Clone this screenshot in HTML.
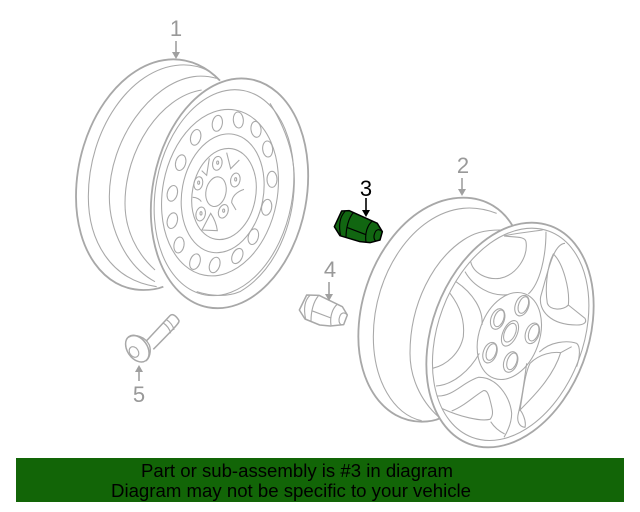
<!DOCTYPE html>
<html>
<head>
<meta charset="utf-8">
<style>
html,body{margin:0;padding:0;background:#fff;width:640px;height:512px;overflow:hidden}
svg{display:block}
text{font-family:"Liberation Sans",sans-serif}
</style>
</head>
<body>
<svg width="640" height="512" viewBox="0 0 640 512" xmlns="http://www.w3.org/2000/svg">
<rect width="640" height="512" fill="#fff"/>

<!-- Wheel 1 -->
<g transform="translate(60,10) scale(0.33333)" fill="none" stroke="#a8a8a8" stroke-width="3.2">
  <path stroke-width="5.5" d="M480,212 C440,170 390,148 340,148 C180,150 48,350 48,560 C48,720 130,840 250,840 C275,840 295,836 310,830"/>
  <path d="M445,182 C420,170 390,163 360,165 C210,175 85,360 85,560 C85,690 150,810 290,830"/>
  <path d="M470,205 C440,197 420,197 400,200 C270,220 148,390 148,560 C148,660 200,770 285,815"/>
  <path d="M425,240 C300,260 195,420 195,580 C195,660 230,730 285,780"/>
  <ellipse stroke-width="5.5" cx="508.500" cy="550" rx="231" ry="348" transform="rotate(10.7 508.5 550)"/>
  <ellipse cx="492" cy="548" rx="205" ry="312" transform="rotate(10.7 492 548)"/>
  <path d="M630,280 C680,360 705,440 703,520 C700,640 650,780 540,845 C500,862 450,858 410,845"/>
  <ellipse cx="480" cy="548" rx="172" ry="252" transform="rotate(10.7 480 548)"/>
  <ellipse cx="488" cy="550" rx="122" ry="180" transform="rotate(10.7 488 550)"/>
  <ellipse cx="492" cy="552" rx="95" ry="138" transform="rotate(10.7 492 552)"/>
  <ellipse cx="468" cy="545" rx="30" ry="45" transform="rotate(12 468 545)"/>
  <g>
    <ellipse cx="472" cy="340" rx="15" ry="24" transform="rotate(10 472 340)"/>
    <ellipse cx="535" cy="330" rx="15" ry="24" transform="rotate(-5 535 330)"/>
    <ellipse cx="588" cy="358" rx="15" ry="24" transform="rotate(-8 588 358)"/>
    <ellipse cx="623" cy="417" rx="15" ry="24" transform="rotate(-5 623 417)"/>
    <ellipse cx="636" cy="508" rx="15" ry="24"/>
    <ellipse cx="620" cy="592" rx="15" ry="24" transform="rotate(10 620 592)"/>
    <ellipse cx="580" cy="680" rx="15" ry="24" transform="rotate(15 580 680)"/>
    <ellipse cx="532" cy="738" rx="15" ry="24" transform="rotate(25 532 738)"/>
    <ellipse cx="464" cy="765" rx="15" ry="24" transform="rotate(20 464 765)"/>
    <ellipse cx="405" cy="755" rx="15" ry="24" transform="rotate(18 405 755)"/>
    <ellipse cx="357" cy="705" rx="15" ry="24" transform="rotate(10 357 705)"/>
    <ellipse cx="337" cy="632" rx="15" ry="24" transform="rotate(15 337 632)"/>
    <ellipse cx="337" cy="550" rx="15" ry="24" transform="rotate(15 337 550)"/>
    <ellipse cx="362" cy="458" rx="15" ry="24" transform="rotate(15 362 458)"/>
    <ellipse cx="407" cy="382" rx="15" ry="24" transform="rotate(15 407 382)"/>
  </g>
  <ellipse cx="472" cy="460" rx="14" ry="21" transform="rotate(12 472 460)"/>
  <ellipse cx="473" cy="458" rx="3" ry="5"/>
  <ellipse cx="526" cy="510" rx="14" ry="21" transform="rotate(12 526 510)"/>
  <ellipse cx="527" cy="508" rx="3" ry="5"/>
  <ellipse cx="490" cy="604" rx="14" ry="21" transform="rotate(20 490 604)"/>
  <ellipse cx="491" cy="602" rx="3" ry="5"/>
  <ellipse cx="422" cy="612" rx="14" ry="21" transform="rotate(12 422 612)"/>
  <ellipse cx="423" cy="610" rx="3" ry="5"/>
  <ellipse cx="415" cy="520" rx="13" ry="20" transform="rotate(12 415 520)"/>
  <ellipse cx="416" cy="518" rx="3" ry="5"/>
  <path d="M500,428 L512,476 L538,450"/>
  <path d="M425,482 L440,496 L448,445"/>
  <path d="M552,538 C530,545 515,560 515,578 L528,600"/>
  <path d="M426,660 L452,610 C462,625 470,645 472,662 Z"/>
  <path d="M398,562 C410,562 420,568 424,575"/>
</g>

<!-- Wheel 2 -->
<g transform="translate(350,150) scale(0.33333)" fill="none" stroke="#a8a8a8" stroke-width="3.2">
  <path stroke-width="5.5" d="M488,228 C460,180 410,143 340,143 C170,143 25,350 25,560 C25,700 100,815 215,815 C235,815 255,812 270,805"/>
  <path d="M440,190 C400,175 370,172 340,175 C190,190 70,370 70,560 C70,690 130,795 215,812"/>
  <path d="M452,240 C400,240 370,250 340,270 C250,330 180,460 180,610 C180,680 210,750 265,800"/>
  <ellipse stroke-width="5.5" cx="480" cy="555" rx="234" ry="349" transform="rotate(20.5 480 555)"/>
  <ellipse cx="482" cy="553" rx="218" ry="330" transform="rotate(20.5 482 553)"/>
  <ellipse cx="478" cy="558" rx="90" ry="135" transform="rotate(20 478 558)"/>
  <g>
    <ellipse cx="480" cy="550" rx="21" ry="41" transform="rotate(25 480 550)"/>
    <ellipse cx="443" cy="507" rx="20" ry="32" transform="rotate(20 443 507)"/>
    <ellipse cx="447" cy="505" rx="14" ry="26" transform="rotate(20 447 505)"/>
    <ellipse cx="516" cy="467" rx="20" ry="32" transform="rotate(20 516 467)"/>
    <ellipse cx="520" cy="465" rx="14" ry="26" transform="rotate(20 520 465)"/>
    <ellipse cx="547" cy="550" rx="20" ry="32" transform="rotate(20 547 550)"/>
    <ellipse cx="551" cy="548" rx="14" ry="26" transform="rotate(20 551 548)"/>
    <ellipse cx="482" cy="636" rx="20" ry="32" transform="rotate(20 482 636)"/>
    <ellipse cx="486" cy="634" rx="14" ry="26" transform="rotate(20 486 634)"/>
    <ellipse cx="420" cy="608" rx="20" ry="32" transform="rotate(20 420 608)"/>
    <ellipse cx="424" cy="606" rx="14" ry="26" transform="rotate(20 424 606)"/>
    <ellipse cx="480" cy="548" rx="16" ry="30" transform="rotate(25 480 548)"/>
  </g>
  <!-- top window -->
  <path d="M362,335 C370,370 410,390 450,385 C500,375 535,320 528,275 C525,258 490,262 462,258"/>
  <path d="M462,258 C495,250 545,245 578,240"/>
  <path d="M345,365 C370,410 425,440 472,434"/>
  <path d="M588,245 C588,320 570,400 535,432"/>
  <!-- right window -->
  <path d="M610,312 C590,350 585,420 592,460 C600,482 640,482 655,465 C660,420 640,340 610,312 Z"/>
  <path d="M645,280 C610,282 595,360 572,440 C565,480 600,525 680,525 C700,525 712,518 705,505 L655,465"/>
  <!-- lower right -->
  <path d="M568,606 C600,575 650,570 680,580 C692,590 690,620 680,650"/>
  <path d="M540,640 C570,610 610,605 632,608 C610,680 550,740 510,780 C520,720 525,670 540,640 Z"/>
  <path d="M632,608 L665,590"/>
  <path d="M530,640 C522,700 515,750 505,790 C500,810 505,830 525,832 C530,810 515,785 510,780"/>
  <!-- left window -->
  <path d="M300,430 C330,470 345,510 340,560 C330,610 290,645 248,655"/>
  <path d="M318,395 C370,430 400,480 396,525"/>
  <path d="M258,708 C310,705 360,660 388,610"/>
  <path d="M262,738 C310,740 340,695 385,682 C440,680 480,740 485,790 C485,820 472,845 462,862"/>
  <!-- lower-left window -->
  <path d="M305,783 C340,770 370,740 400,722 C410,720 415,730 420,750 C428,780 432,795 420,808 C390,815 330,800 275,775"/>
  <path d="M422,815 C435,835 450,845 464,852"/>
</g>

<!-- Nut 4 -->
<g transform="translate(255,253.33) scale(0.33333)" fill="#fff" stroke="#a8a8a8" stroke-width="3.4" stroke-linejoin="round">
  <path stroke-width="4.5" d="M133,170 L155,125 L192,126 L262,160 L277,185 L266,214 L226,218 L194,215 L150,197 Z"/>
  <path fill="none" d="M165,126 C150,140 145,165 152,198 M190,128 C175,145 168,175 168,203 M170,172 L228,194"/>
  <path fill="none" d="M248,152 C232,165 224,190 228,216 M277,185 C268,175 258,178 254,190 C250,200 252,210 258,214"/>
</g>

<!-- Nut 3 -->
<g transform="translate(290,170) scale(0.33333)" fill="#116611" stroke="#000" stroke-width="3.4" stroke-linejoin="round">
  <path stroke-width="4.5" d="M133,170 L155,123 L178,122 L262,160 L277,185 L270,210 L240,218 L210,215 L150,197 Z"/>
  <path fill="none" d="M165,124 C150,140 145,165 152,198 M190,128 C175,145 168,175 168,203 M170,172 L228,194"/>
  <path fill="none" d="M248,152 C232,165 224,190 228,216 M277,185 C268,175 258,178 254,190 C250,200 252,210 258,214"/>
</g>

<!-- Bolt 5 -->
<g transform="translate(110,300) scale(0.33333)" fill="none" stroke="#a8a8a8" stroke-width="3.4">
  <path stroke-width="4.5" fill="#fff" d="M110,122 L180,47 C188,38 200,50 207,62 C208,68 205,72 130,148"/>
  <path d="M158,68 C170,75 180,88 182,100 M168,58 C180,65 190,78 192,90"/>
  <ellipse stroke-width="4.5" fill="#fff" cx="82" cy="146" rx="30" ry="44" transform="rotate(-35 82 146)"/>
  <path stroke-width="4" d="M55,112 C75,100 105,110 118,135 C125,155 118,175 108,183"/>
  <ellipse cx="72" cy="156" rx="13" ry="17" transform="rotate(-35 72 156)"/>
</g>

<!-- Arrows -->
<g stroke="#a0a0a0" stroke-width="1.6" fill="#a0a0a0">
  <line x1="176" y1="41" x2="176" y2="54"/>
  <path stroke="none" d="M172,52 L180,52 L176,59 Z"/>
  <line x1="462" y1="178" x2="462" y2="191"/>
  <path stroke="none" d="M458,189 L466,189 L462,196 Z"/>
  <line x1="329" y1="282" x2="329" y2="296"/>
  <path stroke="none" d="M325,294 L333,294 L329,301 Z"/>
  <line x1="139" y1="381" x2="139" y2="369"/>
  <path stroke="none" d="M135,372 L143,372 L139,365 Z"/>
</g>
<g stroke="#000" stroke-width="1.6" fill="#000">
  <line x1="366" y1="198" x2="366" y2="212"/>
  <path stroke="none" d="M362,210 L370,210 L366,217 Z"/>
</g>

<!-- Labels -->
<g font-size="22" fill="#999">
  <text x="176" y="36" text-anchor="middle">1</text>
  <text x="463" y="173" text-anchor="middle">2</text>
  <text x="330" y="277" text-anchor="middle">4</text>
  <text x="139" y="402" text-anchor="middle">5</text>
</g>
<text x="366" y="196" font-size="22" fill="#000" text-anchor="middle">3</text>

<!-- Footer bar -->
<rect x="16" y="458" width="608" height="44" fill="#126507"/>
<text x="141" y="477" font-size="18" fill="#000" textLength="312" lengthAdjust="spacingAndGlyphs">Part or sub-assembly is #3 in diagram</text>
<text x="111" y="497" font-size="18" fill="#000" textLength="360" lengthAdjust="spacingAndGlyphs">Diagram may not be specific to your vehicle</text>
</svg>
</body>
</html>
